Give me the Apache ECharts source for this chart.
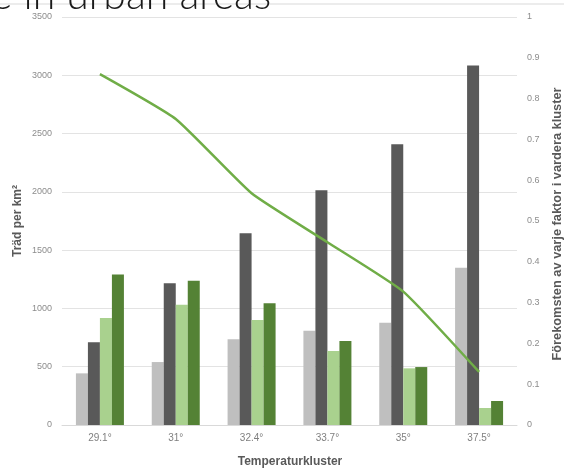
<!DOCTYPE html>
<html>
<head>
<meta charset="utf-8">
<script src="https://cdn.jsdelivr.net/npm/echarts@6/dist/echarts.min.js"></script>
<style>html,body{margin:0;padding:0;background:#fff;}#c{width:564px;height:469px;}</style>
</head>
<body>
<div id="c"></div>
<script>
var categories = ['29.1°', '31°', '32.4°', '33.7°', '35°', '37.5°'];
var seriesA = [443, 540, 735, 808, 878, 1350];
var seriesB = [710, 1215, 1645, 2013, 2408, 3083];
var seriesC = [918, 1032, 900, 635, 486, 146];
var seriesD = [1290, 1238, 1044, 720, 497, 206];
var lineValues = [0.86, 0.75, 0.568, 0.448, 0.327, 0.13];
var leftTicks = [0, 3500, 500];
var rightTicks = [0, 1, 0.1];

var chart = echarts.init(document.getElementById('c'), null, {renderer: 'canvas'});
var labelFont = "'Liberation Sans Narrow', 'Liberation Sans', sans-serif";
function bar(name, data, color) {
  return {name: name, type: 'bar', data: data, yAxisIndex: 0, barWidth: 12, barGap: '0%',
    itemStyle: {color: color}};
}
chart.setOption({
  animation: false,
  backgroundColor: '#fff',
  grid: {left: 62, right: 47, top: 17, bottom: 44},
  graphic: [
    {type: 'line', shape: {x1: 0, y1: 4, x2: 564, y2: 4}, style: {stroke: '#d9d9d9', lineWidth: 1}, z: 1},
    {type: 'text', x: -9, y: 16, z: 2, style: {text: 'e in urban areas', font: "300 41px Lato, 'Open Sans', sans-serif", fill: '#1a1a1a', textVerticalAlign: 'bottom'}},
    {type: 'text', x: 18, y: 221, rotation: Math.PI / 2, z: 2, style: {text: 'Träd per km²', font: "bold 12px " + labelFont, fill: '#595959', textAlign: 'center', textVerticalAlign: 'middle'}},
    {type: 'text', x: 557, y: 224, rotation: Math.PI / 2, z: 2, style: {text: 'Förekomsten av varje faktor i vardera kluster', font: "bold 12.8px " + labelFont, fill: '#595959', textAlign: 'center', textVerticalAlign: 'middle'}},
    {type: 'text', x: 290, y: 462, z: 2, style: {text: 'Temperaturkluster', font: "bold 12px " + labelFont, fill: '#595959', textAlign: 'center', textVerticalAlign: 'middle'}}
  ],
  xAxis: {
    type: 'category', data: categories,
    axisLine: {lineStyle: {color: '#d9d9d9'}},
    axisTick: {show: false},
    axisLabel: {color: '#7f7f7f', fontSize: 10, fontFamily: labelFont, margin: 8}
  },
  yAxis: [
    {type: 'value', min: leftTicks[0], max: leftTicks[1], interval: leftTicks[2],
      axisLine: {show: false}, axisTick: {show: false},
      axisLabel: {color: '#8c8c8c', fontSize: 9, fontFamily: labelFont, margin: 10, formatter: function (v) { return String(v); }},
      splitLine: {lineStyle: {color: '#e3e3e3'}}},
    {type: 'value', min: rightTicks[0], max: rightTicks[1], interval: rightTicks[2],
      axisLine: {show: false}, axisTick: {show: false},
      axisLabel: {color: '#8c8c8c', fontSize: 9, fontFamily: labelFont, margin: 10},
      splitLine: {show: false}}
  ],
  series: [
    bar('A', seriesA, '#bfbfbf'),
    bar('B', seriesB, '#595959'),
    bar('C', seriesC, '#a9d18e'),
    bar('D', seriesD, '#548235'),
    {name: 'Förekomst', type: 'line', yAxisIndex: 1, data: lineValues, symbol: 'none', smooth: 0.15,
      lineStyle: {color: '#70ad47', width: 2.5}, z: 5}
  ]
});
</script>
</body>
</html>
